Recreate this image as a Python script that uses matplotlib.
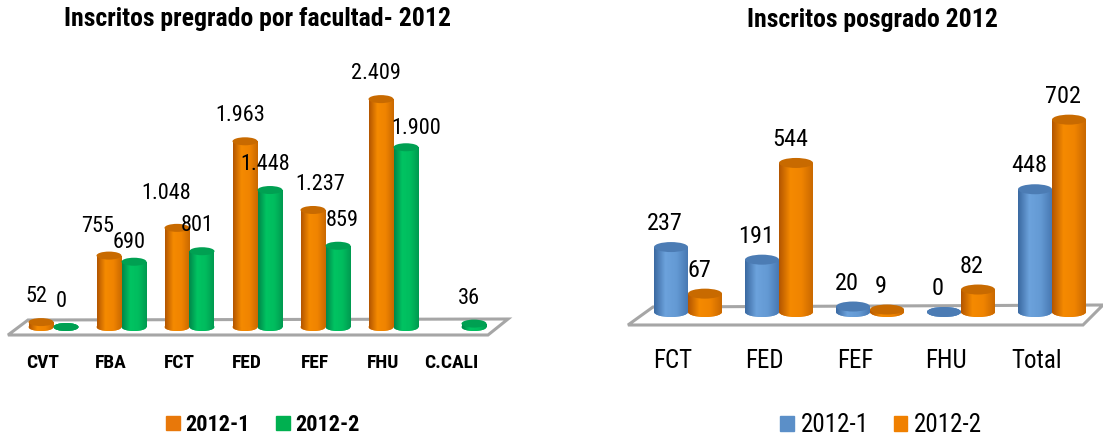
import numpy as np
import matplotlib.pyplot as plt
from matplotlib.patches import Ellipse, Polygon, Patch
from matplotlib.colors import LinearSegmentedColormap

plt.rcParams['font.family'] = ['Roboto Condensed', 'Liberation Sans Narrow', 'DejaVu Sans']
plt.rcParams['font.stretch'] = 'condensed'

# --- data ---
pre_cats = ['CVT', 'FBA', 'FCT', 'FED', 'FEF', 'FHU', 'C.CALI']
pre_2012_1 = [52, 755, 1048, 1963, 1237, 2409, None]   # no 2012-1 bar for C.CALI
pre_2012_2 = [0, 690, 801, 1448, 859, 1900, 36]

pos_cats = ['FCT', 'FED', 'FEF', 'FHU', 'Total']
pos_2012_1 = [237, 191, 20, 0, 448]
pos_2012_2 = [67, 544, 9, 82, 702]

series_names = ['2012-1', '2012-2']

W, H = 1103, 438

def fx(px):
    return px / W

def fy(py):
    return 1 - py / H

# cylinder colours: (left edge, highlight, right edge), top cap
orange = LinearSegmentedColormap.from_list('o', ['#B25500', '#F58A00', '#F08400', '#C96800'])
green = LinearSegmentedColormap.from_list('g', ['#00864A', '#00C462', '#00BC5E', '#009A50'])
blue = LinearSegmentedColormap.from_list('b', ['#3A68A0', '#6CA2DC', '#649AD4', '#4878B2'])
top_col = {'o': '#C86A00', 'g': '#00A052', 'b': '#4C7CB4'}
grad = np.linspace(0, 1, 128)[None, :]


def cylinder(ax, xc, width, val, cmap, topc, eh):
    x0 = xc - width / 2
    bot = Ellipse((xc, 0), width, eh, facecolor=cmap(0.6), edgecolor='none', zorder=2)
    ax.add_patch(bot)
    rect = ax.bar(xc, val, width, color=cmap(0.6), linewidth=0, zorder=2)[0]
    for clip in (bot, rect):
        im = ax.imshow(grad, cmap=cmap, extent=[x0, x0 + width, -eh, val + eh],
                       aspect='auto', interpolation='bilinear', zorder=2.1)
        im.set_clip_path(clip)
    ax.add_patch(Ellipse((xc, val), width, eh, facecolor=topc, edgecolor='none', zorder=3))


def floor(fig, ax, pts):
    poly = Polygon([(fx(x), fy(y)) for x, y in pts], closed=True, transform=fig.transFigure,
                   facecolor='white', edgecolor='#A6A6A6', linewidth=2.2, zorder=0.5, clip_on=False)
    ax.add_patch(poly)


fig = plt.figure(figsize=(W / 100, H / 100), dpi=100)

# ---------------- left: pregrado ----------------
ax1 = fig.add_axes([fx(0), fy(345), fx(520), (345 - 40) / H])
ax1.axis('off')
x0_px, step_px = 53.5, 68.0          # group centre / spacing in pixels
base_px, sc1 = 327.0, 0.0946         # baseline pixel, pixels per unit
bw1, off1 = 25 / step_px, 12.5 / step_px
eh1 = 8 / sc1
floor(fig, ax1, [(8, 335), (28, 320), (508, 319), (488, 335)])

nudge1 = {(1, 0): (-6, 4), (1, 1): (0, -6), (2, 0): (-6, 9),
          (4, 0): (12, 0), (4, 1): (9, 0), (5, 1): (15, -7)}
for i in range(len(pre_cats)):
    for s, (vals, cm, tc) in enumerate([(pre_2012_1, orange, 'o'), (pre_2012_2, green, 'g')]):
        v = vals[i]
        if v is None:
            continue
        xc = i + (-off1 if s == 0 else off1)
        cylinder(ax1, xc, bw1, v, cm, top_col[tc], eh1)
        dx, dy = nudge1.get((i, s), (0, 0))
        ax1.text(xc + (-5 + dx) / step_px, v + (20 + dy) / sc1, f'{v:,}'.replace(',', '.'),
                 ha='center', va='baseline', fontsize=16, color='black', zorder=5)
    ax1.text(i - 10.5 / step_px, (345 - 368) / 305, pre_cats[i], transform=ax1.get_xaxis_transform(),
             ha='center', va='baseline', fontsize=14, fontweight='bold')

ax1.set_xlim(-x0_px / step_px, (520 - x0_px) / step_px)
ax1.set_ylim((base_px - 345) / sc1, (base_px - 40) / sc1)
fig.text(fx(258), fy(26), 'Inscritos pregrado por facultad- 2012', ha='center', va='baseline',
         fontsize=18.5, fontweight='bold')

fig.legend(handles=[Patch(color='#E8780A'), Patch(color='#00B050')], labels=series_names,
           loc='center', bbox_to_anchor=(fx(263), fy(425)), ncol=2, frameon=False,
           handlelength=0.6, handleheight=0.6, handletextpad=0.25, columnspacing=1.2,
           prop={'size': 16, 'weight': 'bold'})

# ---------------- right: posgrado ----------------
ax2 = fig.add_axes([fx(620), fy(345), fx(1103 - 620), (345 - 40) / H])
ax2.axis('off')
x0b_px, step2 = 688.0, 91.0
base2, sc2 = 312.0, 0.274
bw2, off2 = 34 / step2, 17 / step2
eh2 = 10 / sc2
floor(fig, ax2, [(628, 325), (653, 307), (1103, 305), (1083, 325)])

for i in range(len(pos_cats)):
    for s, (vals, cm, tc) in enumerate([(pos_2012_1, blue, 'b'), (pos_2012_2, orange, 'o')]):
        v = vals[i]
        xc = i + (-off2 if s == 0 else off2)
        cylinder(ax2, xc, bw2, v, cm, top_col[tc], eh2)
        ax2.text(xc - 6 / step2, v + 17 / sc2, f'{v}', ha='center', va='baseline',
                 fontsize=17.5, color='black', zorder=5)
    ax2.text(i - 15 / step2, (345 - 368) / 305, pos_cats[i], transform=ax2.get_xaxis_transform(),
             ha='center', va='baseline', fontsize=18)

ax2.set_xlim((620 - x0b_px) / step2, (1103 - x0b_px) / step2)
ax2.set_ylim((base2 - 345) / sc2, (base2 - 40) / sc2)
fig.text(fx(872), fy(27), 'Inscritos posgrado 2012', ha='center', va='baseline',
         fontsize=18.5, fontweight='bold')

fig.legend(handles=[Patch(color='#5B8FC8'), Patch(color='#F08000')], labels=series_names,
           loc='center', bbox_to_anchor=(fx(881), fy(425)), ncol=2, frameon=False,
           handlelength=0.55, handleheight=0.55, handletextpad=0.25, columnspacing=1.0,
           prop={'size': 18})

fig.savefig('out.png', dpi=100, facecolor='white')
